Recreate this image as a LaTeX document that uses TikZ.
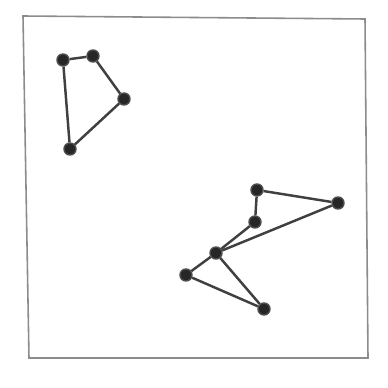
\documentclass[tikz,border=0pt]{standalone}
\begin{document}
\begin{tikzpicture}[x=0.01cm,y=-0.01cm,
  vtx/.style={circle,fill=black!85,draw=black!70,line width=0.4pt,inner sep=0pt,minimum size=0.12cm},
  edge/.style={draw=black!75,line width=0.7pt},
  frame/.style={draw=black!45,line width=0.45pt}]
\useasboundingbox (0,0) rectangle (388,388);
\fill[white] (0,0) rectangle (388,388);
% frame
\coordinate (f1) at (23,16);
\coordinate (f2) at (365,19);
\coordinate (f3) at (368,358);
\coordinate (f4) at (29,358);
\draw[frame] (f1) -- (f2) -- (f3) -- (f4) -- cycle;
% left graph
\node[vtx] (A) at (63,60) {};
\node[vtx] (B) at (93,56) {};
\node[vtx] (C) at (124,99) {};
\node[vtx] (D) at (70,149) {};
% right graph
\node[vtx] (E) at (257,190) {};
\node[vtx] (F) at (338,203) {};
\node[vtx] (G) at (255,222) {};
\node[vtx] (H) at (216,253) {};
\node[vtx] (I) at (186,275) {};
\node[vtx] (J) at (264,309) {};
\begin{scope}[on background layer/.style={}]
\draw[edge] (A) -- (B);
\draw[edge] (B) -- (C);
\draw[edge] (C) -- (D);
\draw[edge] (D) -- (A);
\draw[edge] (E) -- (F);
\draw[edge] (E) -- (G);
\draw[edge] (G) -- (H);
\draw[edge] (F) -- (H);
\draw[edge] (H) -- (I);
\draw[edge] (I) -- (J);
\draw[edge] (H) -- (J);
\end{scope}
\end{tikzpicture}
\end{document}
